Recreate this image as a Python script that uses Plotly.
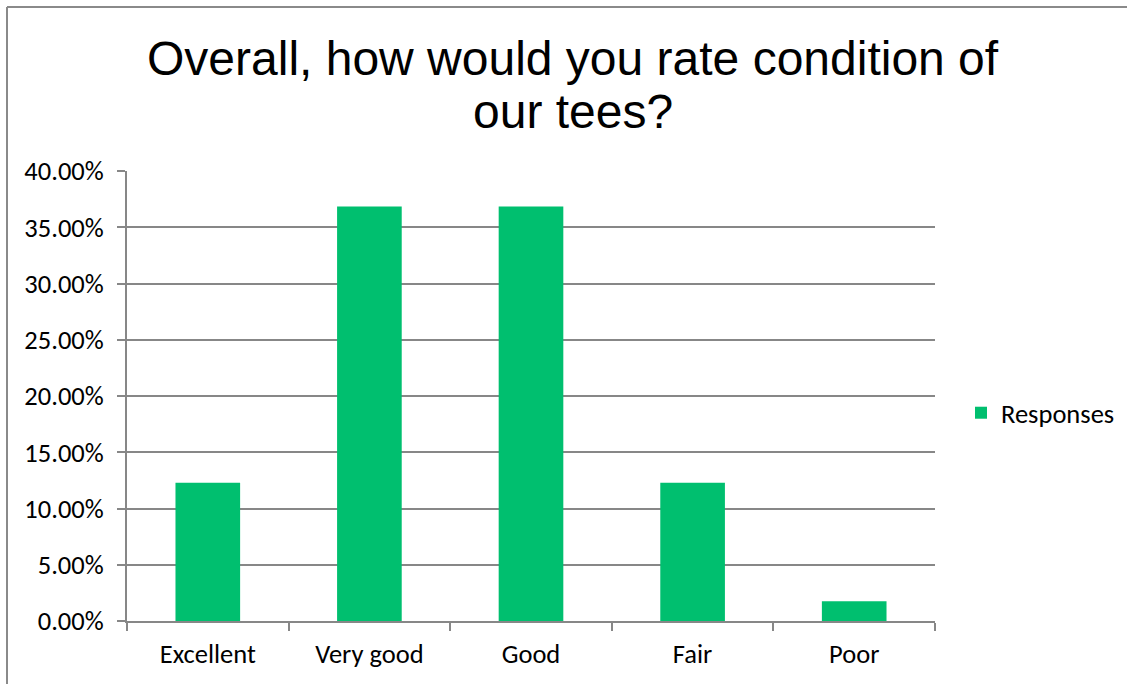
import plotly.graph_objects as go

categories = ["Excellent", "Very good", "Good", "Fair", "Poor"]
responses = [0.1228, 0.3684, 0.3684, 0.1228, 0.0175]
y_ticks = [0, 0.05, 0.10, 0.15, 0.20, 0.25, 0.30, 0.35, 0.40]
title_lines = ["Overall, how would you rate condition of", "our tees?"]
series_name = "Responses"

W, H = 1127, 684
L, R, T, B = 127, 935, 171, 621

def px_x(x):
    return (x - L) / (R - L)

def px_y(y):
    return (B - y) / (B - T)

label_font = dict(family="Carlito, Lato, Calibri, sans-serif", size=26.5, color="black")
grid = "#878787"

fig = go.Figure()
fig.add_trace(go.Bar(
    x=categories, y=responses, name=series_name,
    marker=dict(color="#00BF6F", line=dict(width=0)),
    showlegend=True,
))

fig.update_layout(
    width=W, height=H,
    margin=dict(l=L, r=W - R, t=T, b=H - B, pad=0, autoexpand=False),
    paper_bgcolor="white", plot_bgcolor="white",
    bargap=0.6,
    showlegend=True,
    legend=dict(x=px_x(961), y=px_y(413), xanchor="left", yanchor="middle",
                font=label_font, itemwidth=30, bgcolor="rgba(0,0,0,0)"),
    xaxis=dict(
        type="category", showgrid=False, showline=True, linecolor=grid, linewidth=2,
        ticks="outside", tickson="boundaries", ticklen=8, tickcolor=grid, tickwidth=2,
        tickfont=label_font, ticklabelstandoff=8,
    ),
    yaxis=dict(
        range=[0, 0.40], tickvals=y_ticks, tickformat=".2%",
        showgrid=True, gridcolor=grid, gridwidth=2,
        showline=True, linecolor=grid, linewidth=2,
        ticks="outside", ticklen=8, tickcolor=grid, tickwidth=2,
        tickfont=label_font, ticklabelstandoff=8, zeroline=False,
    ),
)

for i, (line, yc) in enumerate(zip(title_lines, [58, 112])):
    fig.add_annotation(
        text=line, xref="paper", yref="paper", x=px_x(572.5), y=px_y(yc),
        xanchor="center", yanchor="middle", showarrow=False,
        font=dict(family="Liberation Sans, Arial, sans-serif", size=48, color="black"),
    )

# chart frame (left and top edges visible)
fig.add_shape(type="line", xref="paper", yref="paper",
              x0=px_x(7), x1=px_x(7), y0=px_y(H + 5), y1=px_y(7),
              line=dict(color="#8a8a8a", width=2))
fig.add_shape(type="line", xref="paper", yref="paper",
              x0=px_x(7), x1=px_x(W + 5), y0=px_y(7), y1=px_y(7),
              line=dict(color="#8a8a8a", width=2))

fig.write_html("out.html", config={"displayModeBar": False},
               post_script="document.body.style.margin='0px';")
